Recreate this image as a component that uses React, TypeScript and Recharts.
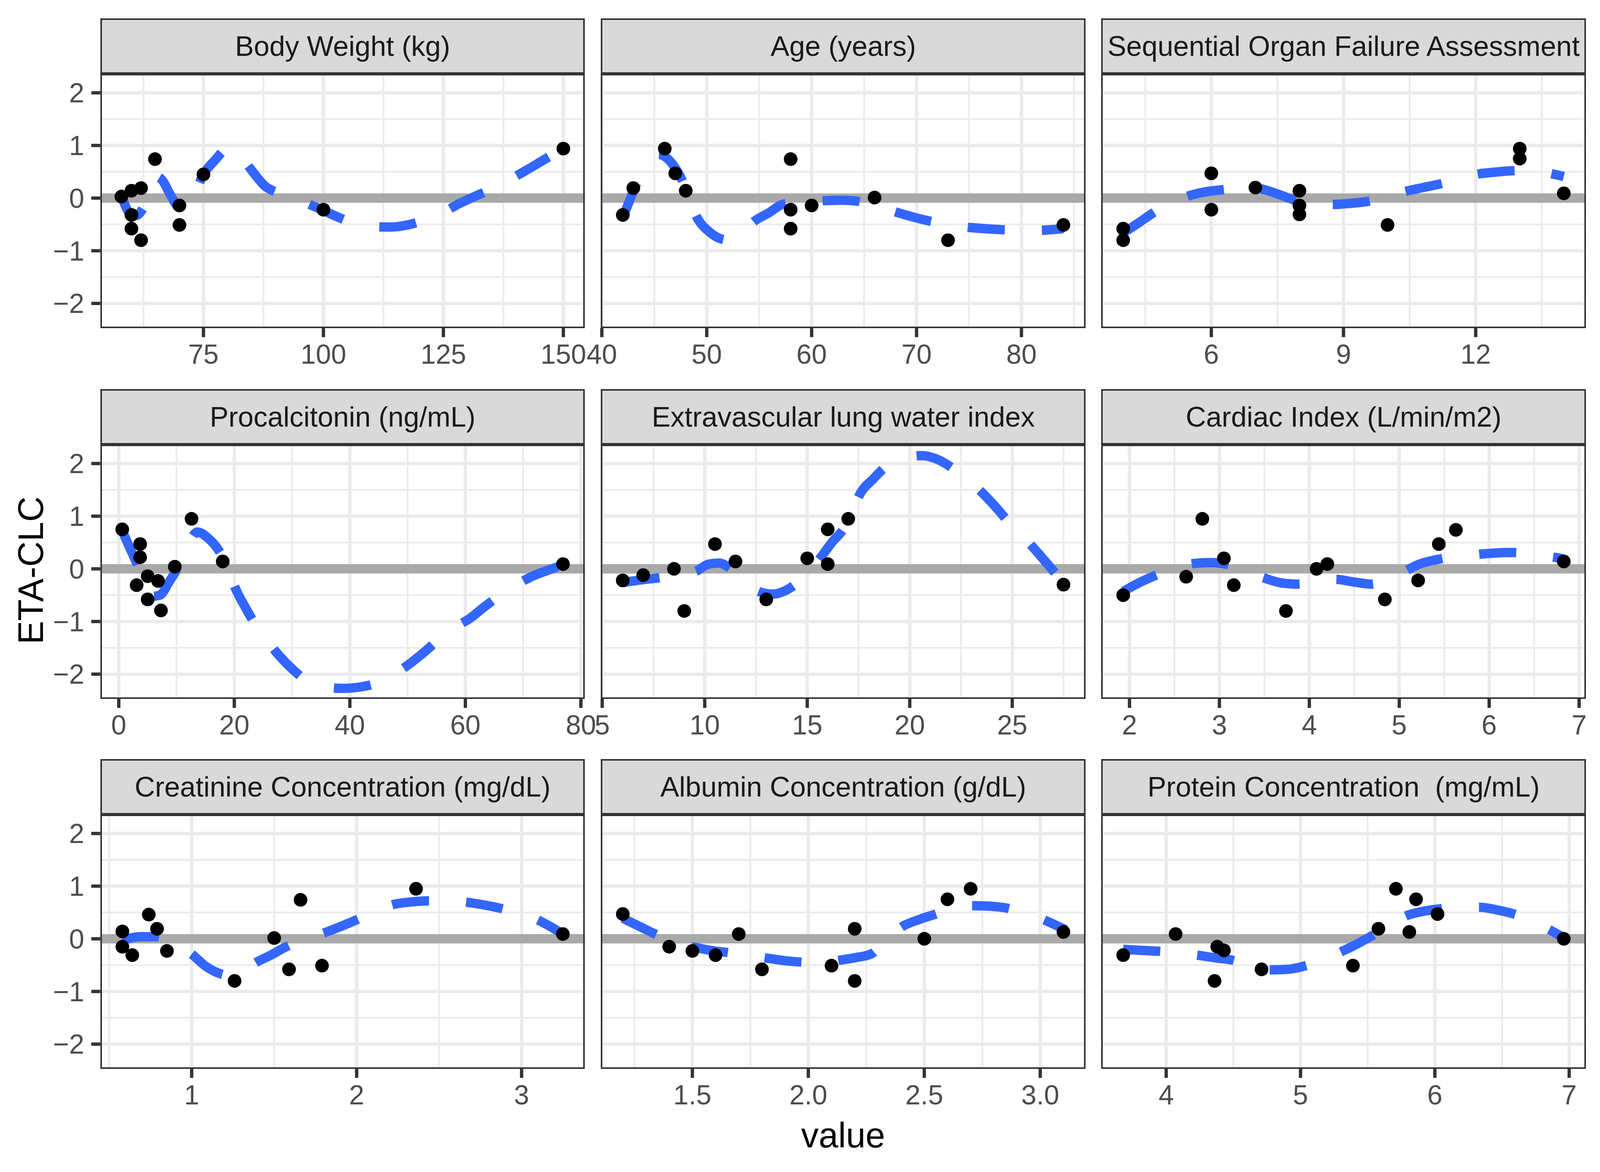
import React from 'react';
import { ComposedChart, Scatter, Line, XAxis, YAxis, ReferenceLine } from 'recharts';

const FONT = '"Liberation Sans", Arial, Helvetica, sans-serif';

// ---------- data ----------
const bwX = [57.9, 60, 62, 60, 60, 62, 64.9, 70, 70, 75, 100, 150];
const bwY = [0.03, 0.14, 0.19, -0.32, -0.58, -0.8, 0.74, -0.14, -0.51, 0.45, -0.22, 0.94];
const bwFitX = [57.9, 59, 60, 61, 62.5, 64, 65.5, 66.5, 68, 70, 71.3, 73, 75, 77.5, 79.6, 80.8, 82.5, 84, 85.7, 87.8, 90, 91.7, 95, 99.6, 103, 106, 110, 114, 118, 121.3, 125, 128.4, 132, 135.2, 139, 142.3, 146, 150];
const bwFitY = [0.05, -0.2, -0.33, -0.33, -0.18, 0.12, 0.4, 0.33, 0.08, -0.19, -0.22, 0.05, 0.45, 0.73, 0.93, 0.96, 0.82, 0.65, 0.45, 0.23, 0.12, 0.07, -0.04, -0.22, -0.36, -0.47, -0.54, -0.55, -0.5, -0.41, -0.27, -0.1, 0.05, 0.18, 0.36, 0.53, 0.73, 0.94];

const ageX = [42, 43, 46, 47, 48, 58, 58, 58, 60, 66, 73, 84];
const ageY = [-0.32, 0.19, 0.94, 0.47, 0.14, 0.74, -0.22, -0.58, -0.14, 0.01, -0.8, -0.51];
const ageFitX = [42, 42.6, 43.2, 44.3, 45.4, 46.2, 46.9, 47.6, 48.3, 49, 50.3, 51.3, 52.3, 53.5, 54.6, 56, 57.2, 59, 61, 63, 64.4, 66, 67.8, 69.5, 71.1, 73, 74.7, 76.5, 78.1, 80, 81.7, 84];
const ageFitY = [-0.37, -0.07, 0.23, 0.6, 0.83, 0.76, 0.6, 0.36, 0.0, -0.34, -0.65, -0.77, -0.8, -0.62, -0.43, -0.27, -0.12, -0.07, -0.05, -0.04, -0.06, -0.13, -0.25, -0.35, -0.43, -0.5, -0.55, -0.58, -0.6, -0.61, -0.61, -0.58];

const sofaX = [4, 4, 6, 6, 7, 8, 8, 8, 10, 13, 13, 14];
const sofaY = [-0.58, -0.8, 0.47, -0.22, 0.2, 0.14, -0.14, -0.31, -0.51, 0.94, 0.75, 0.09];
const sofaFitX = [4, 4.35, 4.68, 5.05, 5.44, 5.87, 6.27, 6.7, 7.09, 7.5, 7.9, 8.3, 8.74, 9.15, 9.57, 10, 10.37, 10.8, 11.2, 11.6, 12, 12.4, 12.83, 13.25, 13.69, 14];
const sofaFitY = [-0.66, -0.47, -0.28, -0.1, 0.03, 0.12, 0.16, 0.2, 0.18, 0.08, -0.04, -0.1, -0.12, -0.1, -0.06, 0.03, 0.12, 0.2, 0.27, 0.36, 0.45, 0.49, 0.52, 0.53, 0.47, 0.41];

const pctX = [0.6, 3.7, 3.7, 3.1, 5.0, 5.0, 6.8, 7.3, 9.7, 12.6, 18.0, 76.9];
const pctY = [0.75, 0.47, 0.22, -0.31, -0.14, -0.58, -0.23, -0.79, 0.04, 0.95, 0.14, 0.09];
const pctFitX = [0.6, 1.9, 3.25, 4.5, 5.8, 7.1, 8.7, 10.3, 12, 13.6, 15.6, 17, 18, 19.2, 20.4, 22, 23.6, 25.6, 27.7, 30, 32.5, 35.5, 38.7, 42, 44.9, 47.7, 50.5, 53, 55.5, 58, 60.8, 63.3, 65.8, 68.6, 71.4, 74.2, 76.9];
const pctFitY = [0.72, 0.4, 0.07, -0.3, -0.52, -0.5, -0.25, 0.04, 0.45, 0.7, 0.57, 0.4, 0.22, -0.1, -0.42, -0.75, -1.05, -1.35, -1.64, -1.9, -2.12, -2.24, -2.27, -2.24, -2.16, -2.0, -1.79, -1.57, -1.33, -1.12, -0.94, -0.72, -0.52, -0.32, -0.15, -0.03, 0.07];

const evX = [6, 7, 8.5, 9, 10.5, 11.5, 13, 15, 16, 16, 17, 27.5];
const evY = [-0.22, -0.12, 0.0, -0.8, 0.47, 0.14, -0.58, 0.2, 0.75, 0.09, 0.95, -0.3];
const evFitX = [6, 6.9, 7.76, 8.7, 9.6, 10.2, 10.7, 11.2, 11.9, 12.7, 13.3, 13.9, 14.4, 15.1, 15.7, 16.2, 16.8, 17.2, 17.6, 18.2, 18.8, 19.7, 20.6, 21.4, 22.2, 22.9, 23.6, 24.2, 24.8, 25.5, 26.1, 26.7, 27.5];
const evFitY = [-0.26, -0.21, -0.17, -0.12, -0.04, 0.09, 0.11, 0.02, -0.25, -0.44, -0.48, -0.42, -0.3, -0.05, 0.24, 0.5, 0.78, 1.1, 1.44, 1.7, 1.93, 2.1, 2.15, 2.07, 1.88, 1.67, 1.42, 1.17, 0.9, 0.63, 0.37, 0.1, -0.27];

const ciX = [1.93, 2.63, 2.81, 3.05, 3.16, 3.74, 4.08, 4.2, 4.84, 5.21, 5.44, 5.63, 6.83];
const ciY = [-0.5, -0.15, 0.95, 0.2, -0.31, -0.8, 0.0, 0.09, -0.58, -0.22, 0.47, 0.74, 0.14];
const ciFitX = [1.93, 2.1, 2.28, 2.5, 2.7, 2.9, 3.09, 3.3, 3.49, 3.7, 3.87, 4.08, 4.29, 4.5, 4.69, 4.88, 5.06, 5.21, 5.43, 5.65, 5.85, 6.05, 6.26, 6.47, 6.68, 6.83];
const ciFitY = [-0.43, -0.27, -0.13, 0.02, 0.1, 0.12, 0.08, -0.05, -0.17, -0.27, -0.29, -0.25, -0.2, -0.25, -0.29, -0.2, -0.05, 0.08, 0.18, 0.24, 0.27, 0.3, 0.31, 0.28, 0.23, 0.19];

const crX = [0.58, 0.58, 0.64, 0.74, 0.79, 0.85, 1.26, 1.5, 1.59, 1.66, 1.79, 2.36, 3.25];
const crY = [0.14, -0.15, -0.31, 0.46, 0.19, -0.23, -0.8, 0.015, -0.58, 0.74, -0.51, 0.95, 0.09];
const crFitX = [0.58, 0.69, 0.79, 0.9, 1.0, 1.08, 1.18, 1.24, 1.31, 1.39, 1.48, 1.58, 1.7, 1.81, 1.9, 2.0, 2.11, 2.22, 2.33, 2.43, 2.54, 2.65, 2.76, 2.87, 2.98, 3.09, 3.17, 3.25];
const crFitY = [-0.03, 0.04, 0.04, -0.1, -0.29, -0.51, -0.67, -0.7, -0.62, -0.45, -0.31, -0.14, 0.0, 0.12, 0.23, 0.36, 0.52, 0.65, 0.7, 0.72, 0.72, 0.7, 0.65, 0.58, 0.48, 0.37, 0.24, 0.09];

const alX = [1.2, 1.4, 1.5, 1.6, 1.7, 1.8, 2.1, 2.2, 2.2, 2.5, 2.6, 2.7, 3.1];
const alY = [0.47, -0.15, -0.23, -0.31, 0.09, -0.58, -0.51, 0.19, -0.8, 0.0, 0.75, 0.95, 0.13];
const alFitX = [1.2, 1.27, 1.34, 1.42, 1.5, 1.58, 1.65, 1.73, 1.81, 1.89, 1.96, 2.05, 2.13, 2.2, 2.27, 2.33, 2.4, 2.48, 2.55, 2.62, 2.7, 2.78, 2.86, 2.94, 3.01, 3.11];
const alFitY = [0.39, 0.24, 0.09, -0.05, -0.15, -0.22, -0.26, -0.31, -0.36, -0.41, -0.44, -0.46, -0.41, -0.36, -0.29, -0.04, 0.22, 0.37, 0.47, 0.57, 0.63, 0.62, 0.58, 0.48, 0.37, 0.17];

const prX = [3.68, 4.07, 4.38, 4.43, 4.36, 4.71, 5.39, 5.58, 5.71, 5.81, 5.86, 6.02, 6.96];
const prY = [-0.31, 0.09, -0.15, -0.22, -0.8, -0.58, -0.51, 0.19, 0.95, 0.13, 0.75, 0.47, 0.0];
const prFitX = [3.68, 3.82, 3.96, 4.1, 4.23, 4.36, 4.5, 4.63, 4.76, 4.9, 5.04, 5.17, 5.29, 5.42, 5.54, 5.66, 5.78, 5.91, 6.04, 6.18, 6.33, 6.46, 6.59, 6.72, 6.84, 6.96];
const prFitY = [-0.2, -0.22, -0.24, -0.27, -0.31, -0.36, -0.41, -0.52, -0.59, -0.58, -0.51, -0.4, -0.26, -0.1, 0.07, 0.25, 0.43, 0.52, 0.57, 0.6, 0.6, 0.55, 0.47, 0.34, 0.19, 0.02];

const titles = [
  'Body Weight (kg)', 'Age (years)', 'Sequential Organ Failure Assessment',
  'Procalcitonin (ng/mL)', 'Extravascular lung water index', 'Cardiac Index (L/min/m2)',
  'Creatinine Concentration (mg/dL)', 'Albumin Concentration (g/dL)', 'Protein Concentration  (mg/mL)',
];

const yTicks = [-2, -1, 0, 1, 2];
const yMinor = [-1.5, -0.5, 0.5, 1.5];

// ---------- layout (horizontal positions fitted to the visible page width) ----------
const SX = 4100 / 4200;
const COL_LEFT = [263 * SX, 1576 * SX, 2888 * SX];
const STRIP_TOP = [47, 996, 1943];
const PANEL_W = 1271 * SX;
const STRIP_H = 142;
const PANEL_H = 651;
const X_AXIS_H = 120;
const Y_DOMAIN: [number, number] = [-2.47, 2.36];

const toPts = (xs: number[], ys: number[]) => xs.map((x, i) => ({ x, y: ys[i] }));
const intFmt = (v: number) => String(v);
const oneDec = (v: number) => v.toFixed(1);
const yFmt = (v: number) => (v < 0 ? '\u2212' + Math.abs(v) : String(v));

const panels = [
  { pts: toPts(bwX, bwY), fit: toPts(bwFitX, bwFitY), domain: [53.5, 154.5], ticks: [75, 100, 125, 150], minor: [62.5, 87.5, 112.5, 137.5], fmt: intFmt },
  { pts: toPts(ageX, ageY), fit: toPts(ageFitX, ageFitY), domain: [39.9, 86.1], ticks: [40, 50, 60, 70, 80], minor: [45, 55, 65, 75, 85], fmt: intFmt },
  { pts: toPts(sofaX, sofaY), fit: toPts(sofaFitX, sofaFitY), domain: [3.5, 14.5], ticks: [6, 9, 12], minor: [4.5, 7.5, 10.5, 13.5], fmt: intFmt },
  { pts: toPts(pctX, pctY), fit: toPts(pctFitX, pctFitY), domain: [-3.2, 80.7], ticks: [0, 20, 40, 60, 80], minor: [10, 30, 50, 70], fmt: intFmt },
  { pts: toPts(evX, evY), fit: toPts(evFitX, evFitY), domain: [4.93, 28.57], ticks: [5, 10, 15, 20, 25], minor: [7.5, 12.5, 17.5, 22.5, 27.5], fmt: intFmt },
  { pts: toPts(ciX, ciY), fit: toPts(ciFitX, ciFitY), domain: [1.685, 7.075], ticks: [2, 3, 4, 5, 6, 7], minor: [2.5, 3.5, 4.5, 5.5, 6.5], fmt: intFmt },
  { pts: toPts(crX, crY), fit: toPts(crFitX, crFitY), domain: [0.446, 3.384], ticks: [1, 2, 3], minor: [0.5, 1.5, 2.5], fmt: intFmt },
  { pts: toPts(alX, alY), fit: toPts(alFitX, alFitY), domain: [1.105, 3.195], ticks: [1.5, 2.0, 2.5, 3.0], minor: [1.25, 1.75, 2.25, 2.75], fmt: oneDec },
  { pts: toPts(prX, prY), fit: toPts(prFitX, prFitY), domain: [3.516, 7.124], ticks: [4, 5, 6, 7], minor: [4.5, 5.5, 6.5], fmt: intFmt },
];

const Dot = (props: any) => {
  const { cx, cy } = props;
  if (cx == null || cy == null) return <g />;
  return <circle cx={cx} cy={cy} r={17.5} fill="#000000" />;
};

function Panel({ idx }: { idx: number }) {
  const p = panels[idx];
  const col = idx % 3;
  const row = Math.floor(idx / 3);
  const showY = col === 0;
  const yW = showY ? COL_LEFT[0] : 0;
  const panelTop = STRIP_TOP[row] + STRIP_H;
  return (
    <>
      <div
        style={{
          position: 'absolute', left: COL_LEFT[col], top: STRIP_TOP[row], width: PANEL_W, height: STRIP_H,
          background: '#D9D9D9', border: '4.5px solid #333333', boxSizing: 'border-box',
          display: 'flex', alignItems: 'center', justifyContent: 'center',
          fontFamily: FONT, fontSize: 72, color: '#1A1A1A', whiteSpace: 'pre', lineHeight: 1,
        }}
      >
        {titles[idx]}
      </div>
      <div style={{ position: 'absolute', left: COL_LEFT[col] - yW, top: panelTop }}>
        <ComposedChart
          width={yW + PANEL_W} height={PANEL_H + X_AXIS_H}
          margin={{ top: 0, right: 0, bottom: 0, left: 0 }}
        >
          <XAxis
            type="number" dataKey="x" domain={p.domain as [number, number]} ticks={p.ticks} allowDataOverflow interval={0}
            height={X_AXIS_H} tickSize={23} tickMargin={18} axisLine={false}
            tickLine={{ stroke: '#333333', strokeWidth: 8.5 }}
            tick={{ fill: '#4D4D4D', fontSize: 70, fontFamily: FONT }}
            tickFormatter={p.fmt}
          />
          <YAxis
            type="number" dataKey="y" domain={Y_DOMAIN} ticks={yTicks} allowDataOverflow interval={0}
            width={yW} hide={!showY} tickSize={23} tickMargin={18} axisLine={false}
            tickLine={{ stroke: '#333333', strokeWidth: 8.5 }}
            tick={{ fill: '#4D4D4D', fontSize: 70, fontFamily: FONT }}
            tickFormatter={yFmt}
          />
          {p.minor.map((v) => (
            <ReferenceLine key={'mx' + v} x={v} stroke="#EBEBEB" strokeWidth={4.5} />
          ))}
          {yMinor.map((v) => (
            <ReferenceLine key={'my' + v} y={v} stroke="#EBEBEB" strokeWidth={4.5} />
          ))}
          {p.ticks.map((v) => (
            <ReferenceLine key={'Mx' + v} x={v} stroke="#EBEBEB" strokeWidth={8.5} />
          ))}
          {yTicks.map((v) => (
            <ReferenceLine key={'My' + v} y={v} stroke="#EBEBEB" strokeWidth={8.5} />
          ))}
          <Scatter data={p.pts} dataKey="y" shape={<Dot />} isAnimationActive={false} />
          <ReferenceLine y={0} stroke="#A9A9A9" strokeWidth={24} />
          <Line
            data={p.fit} dataKey="y" type="monotone" stroke="#3366FF" strokeWidth={24}
            strokeDasharray="95 95" dot={false} activeDot={false} isAnimationActive={false}
          />
        </ComposedChart>
      </div>
      <div
        style={{
          position: 'absolute', left: COL_LEFT[col], top: panelTop, width: PANEL_W, height: PANEL_H,
          border: '4.5px solid #333333', boxSizing: 'border-box', pointerEvents: 'none',
        }}
      />
    </>
  );
}

export default function App() {
  return (
    <div style={{ position: 'absolute', left: 0, top: 0, width: 4200, height: 3000, background: '#FFFFFF', overflow: 'hidden' }}>
      <style>{'svg.recharts-surface { overflow: visible !important; } .recharts-wrapper { overflow: visible !important; }'}</style>
      {panels.map((_, i) => (
        <Panel key={i} idx={i} />
      ))}
      <svg width={4200} height={3000} style={{ position: 'absolute', left: 0, top: 0, pointerEvents: 'none' }}>
        <text
          transform={`translate(${113 * SX},1460) rotate(-90)`} textAnchor="middle"
          fontFamily={FONT} fontSize={90} fill="#000000"
        >
          ETA-CLC
        </text>
        <text x={2211 * SX} y={2937} textAnchor="middle" fontFamily={FONT} fontSize={90} fill="#000000">
          value
        </text>
      </svg>
    </div>
  );
}
